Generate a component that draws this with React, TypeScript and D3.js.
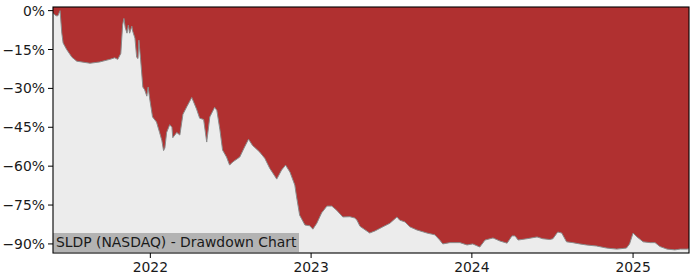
import React from "react";
import * as d3 from "d3";

const dates: string[] = [
  "2021-05-25","2021-06-01","2021-06-05","2021-06-10","2021-06-14","2021-06-17","2021-06-25","2021-07-07","2021-07-18","2021-08-17",
  "2021-09-08","2021-10-01","2021-10-12","2021-10-19","2021-10-26","2021-10-30","2021-11-02","2021-11-05","2021-11-09","2021-11-12",
  "2021-11-15","2021-11-20","2021-11-22","2021-11-27","2021-12-01","2021-12-04","2021-12-06","2021-12-10","2021-12-15","2021-12-19",
  "2021-12-24","2021-12-27","2021-12-31","2022-01-06","2022-01-15","2022-01-22","2022-01-27","2022-01-31","2022-02-03","2022-02-07",
  "2022-02-14","2022-02-19","2022-02-21","2022-03-02","2022-03-09","2022-03-16","2022-03-25","2022-04-05","2022-04-16","2022-04-23",
  "2022-05-02","2022-05-09","2022-05-16","2022-05-27","2022-06-01","2022-06-08","2022-06-14","2022-06-23","2022-06-30","2022-07-07",
  "2022-07-23","2022-08-03","2022-08-12","2022-08-21","2022-09-06","2022-09-18","2022-09-29","2022-10-15","2022-10-26","2022-11-04",
  "2022-11-14","2022-11-25","2022-11-29","2022-12-06","2022-12-18","2022-12-29","2023-01-05","2023-01-14","2023-01-25","2023-02-06",
  "2023-02-17","2023-02-28","2023-03-14","2023-03-30","2023-04-10","2023-04-15","2023-04-22","2023-05-14","2023-05-26","2023-06-13",
  "2023-06-29","2023-07-15","2023-07-21","2023-08-02","2023-08-13","2023-08-29","2023-09-21","2023-10-09","2023-10-20","2023-10-27",
  "2023-11-12","2023-12-05","2023-12-21","2024-01-03","2024-01-19","2024-01-31","2024-02-18","2024-03-05","2024-03-21","2024-04-01",
  "2024-04-08","2024-04-15","2024-05-05","2024-05-28","2024-06-10","2024-06-26","2024-07-03","2024-07-14","2024-07-23","2024-08-03",
  "2024-08-17","2024-09-02","2024-09-17","2024-10-10","2024-11-02","2024-11-25","2024-12-17","2024-12-24","2025-01-01","2025-01-10",
  "2025-01-24","2025-02-09","2025-02-20","2025-03-03","2025-03-19","2025-04-06","2025-04-18","2025-05-04","2025-05-08"
];

const drawdown: number[] = [
  -1,-2,-2,0,-8.7,-12.5,-15,-18,-19.5,-20.3,
  -19.8,-18.8,-18.2,-18.8,-16.5,-5.6,-3,-6.5,-8.7,-5.6,
  -8.7,-6,-8,-10.6,-18,-18.5,-11.4,-19,-29.5,-30.5,
  -33,-29.5,-34.5,-41,-43,-47,-50,-54,-53,-47,
  -44,-45,-49,-47,-48,-40,-37,-33.5,-38,-41.5,
  -42,-50.7,-41,-37.3,-38.5,-46,-53.8,-56.5,-59.6,-58.4,
  -56.5,-52.6,-49.6,-52,-54.5,-57,-60.8,-65,-61.5,-59.6,
  -62.3,-67.3,-71.8,-78.9,-82.7,-83,-84.3,-82,-78,-75.4,
  -75.4,-77,-79.6,-79.5,-80,-80.8,-83.2,-85.8,-85,-83.4,
  -82,-79.6,-80.8,-81.5,-83.4,-84.6,-85.8,-86.5,-88.5,-90,
  -89.5,-89.5,-90.4,-90,-91.2,-88.5,-87.7,-88.9,-89.7,-86.9,
  -86.9,-88.5,-88,-87.3,-88,-88.3,-88,-85.4,-85.8,-89.2,
  -89.5,-90,-90.4,-90.8,-91.6,-92,-91.6,-90,-85.8,-87.3,
  -89.2,-89.5,-89.5,-91,-92,-92.3,-92,-92,-91.8
];

const yTicks: number[] = [0, -15, -30, -45, -60, -75, -90];
const xTickYears: number[] = [2022, 2023, 2024, 2025];
const title = "SLDP (NASDAQ) - Drawdown Chart";

export default function App() {
  const W = 700, H = 280;
  const left = 53, right = 689, top = 7, bottom = 253;
  const parse = d3.timeParse("%Y-%m-%d");
  const data = dates.map((d, i) => ({ date: parse(d) as Date, v: drawdown[i] }));
  const x = d3.scaleTime()
    .domain([data[0].date, data[data.length - 1].date])
    .range([left, right]);
  const y = d3.scaleLinear().domain([-93.5, 1.4]).range([bottom, top]);
  const area = d3.area<{ date: Date; v: number }>()
    .x(d => x(d.date))
    .y0(bottom)
    .y1(d => y(d.v));
  const line = d3.line<{ date: Date; v: number }>()
    .x(d => x(d.date))
    .y(d => y(d.v));
  const font = "DejaVu Sans, sans-serif";
  const fmt = (t: number) => (t < 0 ? "\u2212" + Math.abs(t) : "" + t) + "%";
  return (
    <svg width={W} height={H} style={{ position: "absolute", left: 0, top: 0 }} fontFamily={font}>
      <rect x={0} y={0} width={W} height={H} fill="#ffffff" />
      <rect x={left} y={top} width={right - left} height={bottom - top} fill="#b03030" />
      <path d={area(data) || ""} fill="#ececec" />
      <path d={line(data) || ""} fill="none" stroke="#8a8a8a" strokeWidth={1} />
      <rect x={left} y={233} width={246} height={bottom - 233 - 1} fill="#b3b3b3" />
      <text x={56} y={247} fontSize={13.9} fill="#1a1a1a">{title}</text>
      <rect x={left} y={top} width={right - left} height={bottom - top} fill="none" stroke="#000" strokeWidth={1.1} />
      {yTicks.map(t => (
        <g key={t}>
          <line x1={left - 5} x2={left} y1={y(t)} y2={y(t)} stroke="#000" strokeWidth={1} />
          <text x={left - 8} y={y(t)} dy="0.36em" textAnchor="end" fontSize={13.9} fill="#1a1a1a">{fmt(t)}</text>
        </g>
      ))}
      {xTickYears.map(yr => {
        const px = x(new Date(yr, 0, 1));
        return (
          <g key={yr}>
            <line x1={px} x2={px} y1={bottom} y2={bottom + 5} stroke="#000" strokeWidth={1} />
            <text x={px} y={272} textAnchor="middle" fontSize={13.9} fill="#1a1a1a">{yr}</text>
          </g>
        );
      })}
    </svg>
  );
}
